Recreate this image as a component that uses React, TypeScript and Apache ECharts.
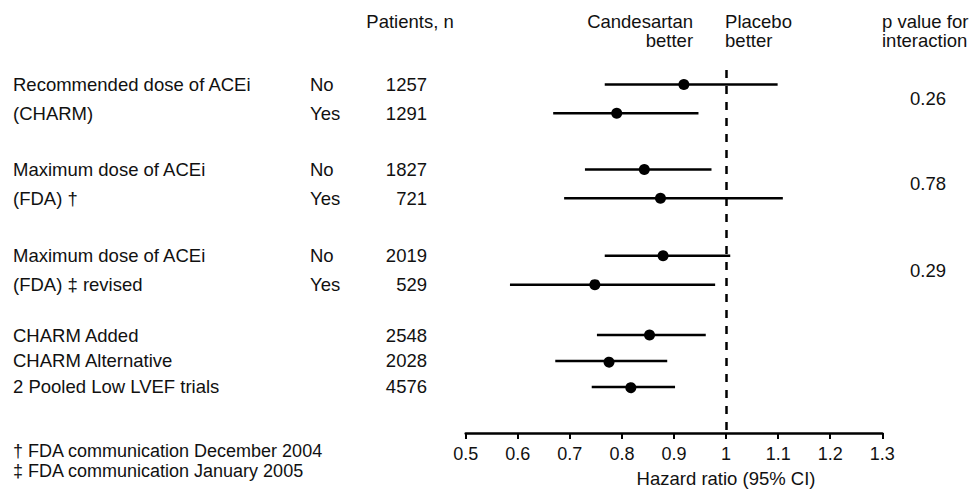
import React, { useEffect, useRef } from "react";
import * as echarts from "echarts";

const labels = [
  "Recommended dose of ACEi",
  "(CHARM)",
  "Maximum dose of ACEi",
  "(FDA) †",
  "Maximum dose of ACEi",
  "(FDA) ‡ revised",
  "CHARM Added",
  "CHARM Alternative",
  "2 Pooled Low LVEF trials",
];
const subgroups = ["No", "Yes", "No", "Yes", "No", "Yes", "", "", ""];
const patients = [1257, 1291, 1827, 721, 2019, 529, 2548, 2028, 4576];
const hazardRatio = [0.919, 0.79, 0.843, 0.874, 0.879, 0.748, 0.853, 0.775, 0.817];
const ciLower = [0.767, 0.668, 0.729, 0.689, 0.767, 0.585, 0.752, 0.672, 0.742];
const ciUpper = [1.099, 0.947, 0.972, 1.109, 1.008, 0.979, 0.961, 0.887, 0.902];
const rowPos = [0, 1, 2.95, 3.95, 5.95, 6.95, 8.7, 9.6, 10.5];
const pValues = ["0.26", "0.78", "0.29"];
const pValueRows = [[0, 1], [2, 3], [4, 5]];
const xTicks = [0.5, 0.6, 0.7, 0.8, 0.9, 1, 1.1, 1.2, 1.3];
const footnotes = ["† FDA communication December 2004", "‡ FDA communication January 2005"];

const FONT = '"Liberation Sans", Arial, Helvetica, sans-serif';
const FS = 18.5;
const INK = "#111";

export default function App() {
  const ref = useRef<HTMLDivElement>(null);
  useEffect(() => {
    if (!ref.current) return;
    const chart = echarts.init(ref.current, undefined, { renderer: "svg" });
    const data = hazardRatio.map((v, i) => [v, ciLower[i], ciUpper[i], rowPos[i]]);
    chart.setOption({
      animation: false,
      grid: { left: 465.7, width: 416.6, top: 70, bottom: 58 },
      xAxis: {
        type: "value",
        min: xTicks[0],
        max: xTicks[xTicks.length - 1],
        interval: 0.1,
        splitLine: { show: false },
        axisLine: { show: true, onZero: false, lineStyle: { color: "#000", width: 2.5 } },
        axisTick: { show: true, length: 6, lineStyle: { color: "#000", width: 2 } },
        axisLabel: {
          margin: 12,
          fontSize: 18,
          fontFamily: FONT,
          color: INK,
          formatter: (v: number) => String(+v.toFixed(1)),
        },
      },
      yAxis: {
        type: "value",
        inverse: true,
        min: -0.5,
        max: 12.1,
        show: false,
        splitLine: { show: false },
      },
      series: [
        {
          type: "custom",
          clip: false,
          data,
          encode: { x: [0, 1, 2], y: 3 },
          renderItem: (params: any, api: any) => {
            const y = api.value(3);
            const lo = api.coord([api.value(1), y]);
            const hi = api.coord([api.value(2), y]);
            const pt = api.coord([api.value(0), y]);
            return {
              type: "group",
              children: [
                {
                  type: "line",
                  shape: { x1: lo[0], y1: lo[1], x2: hi[0], y2: hi[1] },
                  style: { stroke: "#000", lineWidth: 2.5 },
                },
                {
                  type: "circle",
                  shape: { cx: pt[0], cy: pt[1], r: 5.5 },
                  style: { fill: "#000" },
                },
              ],
            };
          },
          markLine: {
            silent: true,
            symbol: "none",
            label: { show: false },
            lineStyle: { color: "#000", width: 2.5, type: [8, 8] },
            data: [{ xAxis: 1 }],
          },
        },
      ],
    });

    const px = (x: number, y: number) =>
      chart.convertToPixel({ gridIndex: 0 }, [x, y]) as number[];
    const txt = (text: string, x: number, y: number, align: string, size: number = FS) => ({
      type: "text",
      x,
      y,
      silent: true,
      style: {
        text,
        font: `${size}px ${FONT}`,
        fill: INK,
        align,
        verticalAlign: "middle",
        textAlign: align,
        textVerticalAlign: "middle",
      },
    });
    const elements: any[] = [];
    labels.forEach((l, i) => {
      const y = px(1, rowPos[i])[1];
      elements.push(txt(l, 13, y, "left"));
      if (subgroups[i]) elements.push(txt(subgroups[i], 310, y, "left"));
      elements.push(txt(String(patients[i]), 427, y, "right"));
    });
    pValueRows.forEach((rows, k) => {
      const y = (px(1, rowPos[rows[0]])[1] + px(1, rowPos[rows[1]])[1]) / 2;
      elements.push(txt(pValues[k], 928, y, "center"));
    });
    const x1 = px(1, 0)[0];
    elements.push(txt("Patients, n", 410, 21, "center"));
    elements.push(txt("Candesartan", x1 - 33, 21, "right"));
    elements.push(txt("better", x1 - 33, 40.5, "right"));
    elements.push(txt("Placebo", x1 - 1, 21, "left"));
    elements.push(txt("better", x1 - 1, 40.5, "left"));
    elements.push(txt("p value for", 882, 21, "left"));
    elements.push(txt("interaction", 882, 40.5, "left"));
    elements.push(txt("Hazard ratio (95% CI)", x1, 478, "center"));
    elements.push(txt(footnotes[0], 13, 451, "left", 18));
    elements.push(txt(footnotes[1], 13, 471, "left", 18));
    chart.setOption({ graphic: { elements } });

    return () => chart.dispose();
  }, []);
  return (
    <div
      ref={ref}
      style={{ position: "fixed", left: 0, top: 0, width: 972, height: 491, background: "#fff" }}
    />
  );
}
